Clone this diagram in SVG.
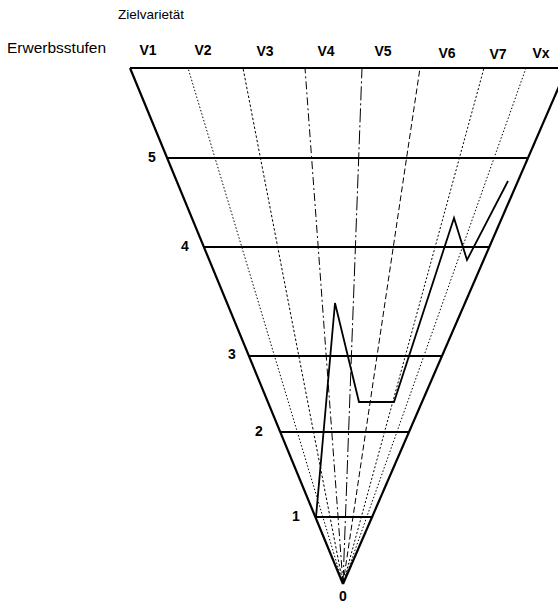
<svg xmlns="http://www.w3.org/2000/svg" width="558" height="603" viewBox="0 0 558 603">
<style>
text{font-family:"Liberation Sans",Arial,sans-serif;fill:#000}
.t{font-size:13.5px}
.e{font-size:15.5px}
.v{font-size:14px;font-weight:bold;text-anchor:middle}
.n{font-size:14px;font-weight:bold;text-anchor:middle}
.edge{stroke:#000;stroke-width:2.2;fill:none}
.lvl{stroke:#000;stroke-width:2;fill:none}
.var{stroke:#000;stroke-width:1;fill:none}
.path{stroke:#000;stroke-width:1.8;fill:none;stroke-linejoin:miter}
</style>
<rect width="558" height="603" fill="#fff"/>
<g id="titles">
<text class="t" x="118" y="19">Zielvarietät</text>
<text class="e" x="7" y="53">Erwerbsstufen</text>
</g>
<g id="varieties-labels">
<text class="v" x="148" y="55">V1</text>
<text class="v" x="203" y="55">V2</text>
<text class="v" x="265" y="56">V3</text>
<text class="v" x="326" y="56">V4</text>
<text class="v" x="383" y="56">V5</text>
<text class="v" x="447" y="58">V6</text>
<text class="v" x="498" y="59">V7</text>
<text class="v" x="541" y="58">Vx</text>
</g>
<g id="variety-lines">
<line class="var" x1="343" y1="584" x2="188" y2="68" stroke-dasharray="1.5 2"/>
<line class="var" x1="343" y1="584" x2="243" y2="68" stroke-dasharray="2.5 2"/>
<line class="var" x1="343" y1="584" x2="305" y2="68" stroke-dasharray="8 3 2 3"/>
<line class="var" x1="343" y1="584" x2="362" y2="68" stroke-dasharray="14 3 2 3"/>
<line class="var" x1="343" y1="584" x2="420" y2="68" stroke-dasharray="6 3"/>
<line class="var" x1="343" y1="584" x2="484" y2="68" stroke-dasharray="2 2"/>
<line class="var" x1="343" y1="584" x2="526" y2="68" stroke-dasharray="1.5 2"/>
</g>
<g id="triangle">
<line class="edge" x1="130" y1="68" x2="558" y2="68"/>
<line class="edge" x1="130" y1="68" x2="343" y2="584"/>
<line class="edge" x1="567" y1="68" x2="343" y2="584"/>
</g>
<g id="levels">
<line class="lvl" x1="167" y1="158" x2="528" y2="158"/>
<line class="lvl" x1="204" y1="247" x2="489" y2="247"/>
<line class="lvl" x1="249" y1="356" x2="442" y2="356"/>
<line class="lvl" x1="280" y1="432" x2="409" y2="432"/>
<line class="lvl" x1="315" y1="517" x2="372" y2="517"/>
</g>
<g id="level-labels">
<text class="n" x="152" y="162">5</text>
<text class="n" x="185" y="251">4</text>
<text class="n" x="232" y="359">3</text>
<text class="n" x="259" y="436">2</text>
<text class="n" x="296" y="521">1</text>
<text class="n" x="343" y="601">0</text>
</g>
<g id="connectors">
<polyline class="path" points="316,517 335,303 359,402 394,402 454,218 467,260 508,181"/>
</g>
</svg>
